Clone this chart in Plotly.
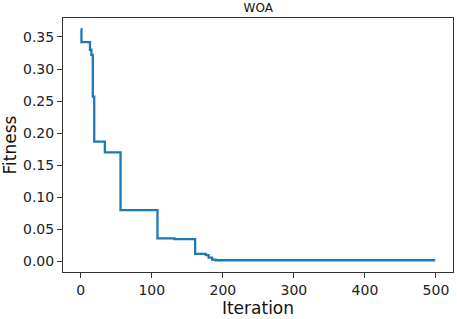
import plotly.graph_objects as go

# Step change points of the best-so-far fitness curve
iterations = [0, 1, 13, 15, 17, 19, 34, 56, 108, 132, 161, 176, 180, 185, 190, 499]
fitness = [0.362, 0.342, 0.330, 0.322, 0.257, 0.187, 0.170, 0.080, 0.036, 0.035,
           0.012, 0.010, 0.006, 0.003, 0.002, 0.002]

x_ticks = [0, 100, 200, 300, 400, 500]
y_ticks = [0.00, 0.05, 0.10, 0.15, 0.20, 0.25, 0.30, 0.35]
title_text = "WOA"
x_label = "Iteration"
y_label = "Fitness"

fig = go.Figure()
fig.add_trace(go.Scatter(
    x=iterations, y=fitness, mode="lines",
    line=dict(color="#1f77b4", width=2.3, shape="hv"),
    showlegend=False, hoverinfo="skip"))

font = "DejaVu Sans, Arial, sans-serif"
axis_common = dict(
    showline=True, mirror=True, linecolor="#333333", linewidth=1,
    ticks="outside", ticklen=5, tickwidth=1, tickcolor="#333333",
    showgrid=False, zeroline=False, automargin=False,
    tickfont=dict(family=font, size=14, color="#222222"),
)

fig.update_layout(
    width=457, height=319,
    margin=dict(l=63, r=4, t=18, b=47),
    paper_bgcolor="white", plot_bgcolor="white",
    title=dict(text=title_text, x=0.565, xanchor="center", y=0.975, yanchor="middle",
               font=dict(family=font, size=12, color="#111111")),
    xaxis=dict(range=[-24.95, 523.95], tickvals=x_ticks,
               ticktext=[str(v) for v in x_ticks],
               title=dict(text=x_label, standoff=5,
                          font=dict(family=font, size=17, color="#111111")),
               **axis_common),
    yaxis=dict(range=[-0.0163, 0.3795], tickvals=y_ticks,
               ticktext=[f"{v:.2f}" for v in y_ticks],
               title=dict(text=y_label, standoff=6,
                          font=dict(family=font, size=17, color="#111111")),
               **axis_common),
)

fig.write_html("out.html", config={"displayModeBar": False},
               post_script="document.body.style.margin='0';")
